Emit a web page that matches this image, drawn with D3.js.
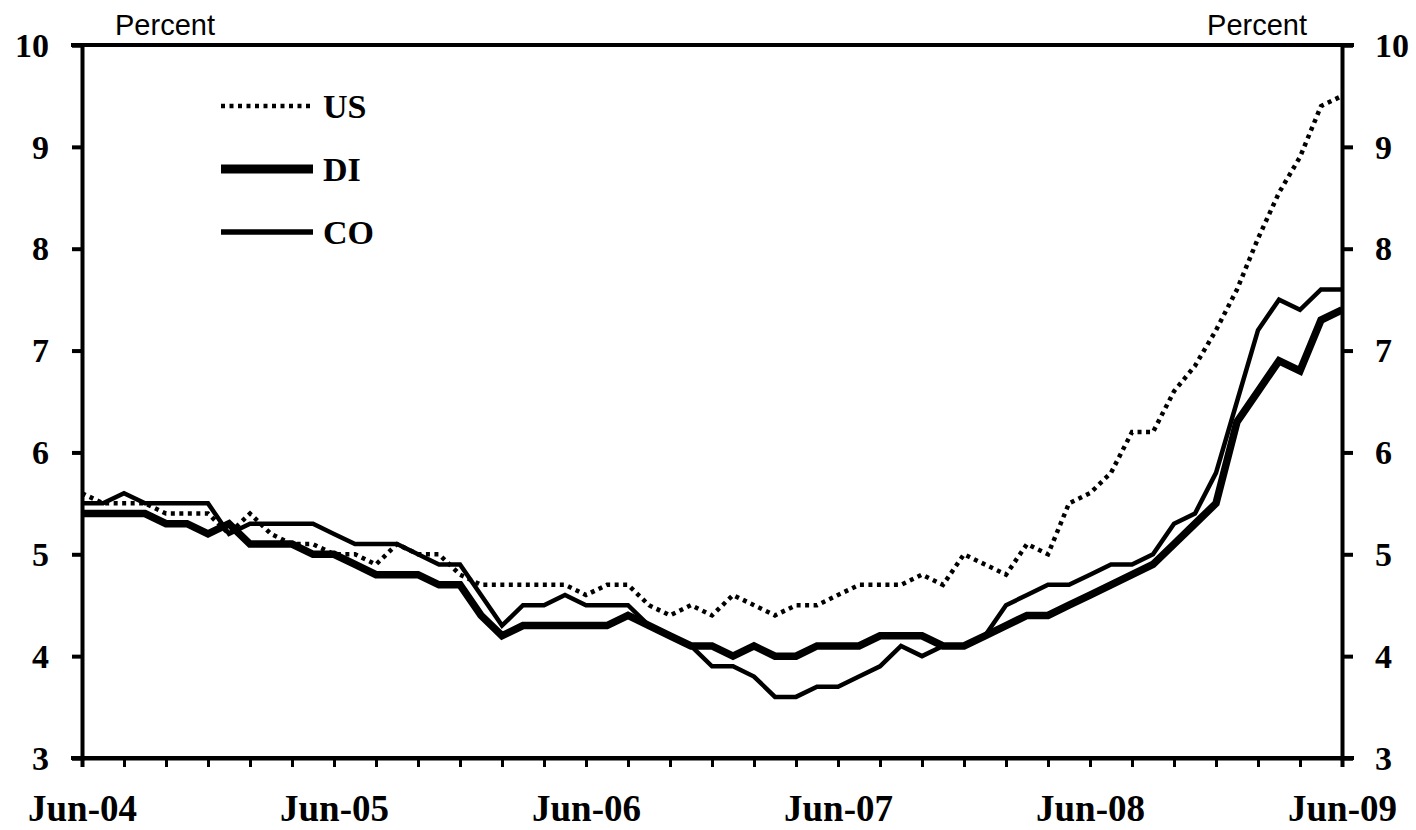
<!DOCTYPE html>
<html>
<head>
<meta charset="utf-8">
<script src="https://cdn.jsdelivr.net/npm/d3@7"></script>
<style>
  html, body { margin: 0; padding: 0; background: #fff; }
  svg { display: block; }
</style>
</head>
<body>
<svg id="chart" width="1416" height="830"></svg>
<script>
// ---- data (monthly, Jun-04 .. Jun-09) ----
const monthLabels = ["Jun-04","Jun-05","Jun-06","Jun-07","Jun-08","Jun-09"];
const yTicks = [3,4,5,6,7,8,9,10];
const seriesNames = ["US","DI","CO"];

const US = [5.6,5.5,5.5,5.5,5.4,5.4,5.4,5.2,5.4,5.2,
            5.1,5.1,5.0,5.0,4.9,5.1,5.0,5.0,4.8,4.7,
            4.7,4.7,4.7,4.7,4.6,4.7,4.7,4.5,4.4,4.5,
            4.4,4.6,4.5,4.4,4.5,4.5,4.6,4.7,4.7,4.7,
            4.8,4.7,5.0,4.9,4.8,5.1,5.0,5.5,5.6,5.8,
            6.2,6.2,6.6,6.85,7.2,7.6,8.1,8.55,8.9,9.4,
            9.5];
const DI = [5.4,5.4,5.4,5.4,5.3,5.3,5.2,5.3,5.1,5.1,
            5.1,5.0,5.0,4.9,4.8,4.8,4.8,4.7,4.7,4.4,
            4.2,4.3,4.3,4.3,4.3,4.3,4.4,4.3,4.2,4.1,
            4.1,4.0,4.1,4.0,4.0,4.1,4.1,4.1,4.2,4.2,
            4.2,4.1,4.1,4.2,4.3,4.4,4.4,4.5,4.6,4.7,
            4.8,4.9,5.1,5.3,5.5,6.3,6.6,6.9,6.8,7.3,
            7.4];
const CO = [5.5,5.5,5.6,5.5,5.5,5.5,5.5,5.2,5.3,5.3,
            5.3,5.3,5.2,5.1,5.1,5.1,5.0,4.9,4.9,4.6,
            4.3,4.5,4.5,4.6,4.5,4.5,4.5,4.3,4.2,4.1,
            3.9,3.9,3.8,3.6,3.6,3.7,3.7,3.8,3.9,4.1,
            4.0,4.1,4.1,4.2,4.5,4.6,4.7,4.7,4.8,4.9,
            4.9,5.0,5.3,5.4,5.8,6.5,7.2,7.5,7.4,7.6,
            7.6];

// ---- layout ----
const svg = d3.select("#chart");
const L = 82, R = 1342, T = 45, B = 758;
const nMonths = US.length - 1;

const x = d3.scaleLinear().domain([0, nMonths]).range([L, R]);
const y = d3.scaleLinear().domain([3, 10]).range([B, T]);

const serif = "'Liberation Serif','Times New Roman',serif";
const sans = "'Liberation Sans',Arial,sans-serif";

// axes frame
const gAxes = svg.append("g");
gAxes.append("line").attr("x1", 71).attr("x2", 1354).attr("y1", T).attr("y2", T)
  .attr("stroke", "#000").attr("stroke-width", 4);
gAxes.append("line").attr("x1", 71).attr("x2", 1354).attr("y1", B).attr("y2", B)
  .attr("stroke", "#000").attr("stroke-width", 4);

// left axis
const leftAxis = d3.axisLeft(y).tickValues(yTicks).tickSize(10).tickPadding(22).tickFormat(d3.format("d"));
const gL = svg.append("g").attr("transform", `translate(${L},0)`).call(leftAxis);
// right axis
const rightAxis = d3.axisRight(y).tickValues(yTicks).tickSize(11).tickPadding(22).tickFormat(d3.format("d"));
const gR = svg.append("g").attr("transform", `translate(${R},0)`).call(rightAxis);
// bottom axis
const xTickVals = d3.range(0, nMonths + 1, 2);
const bottomAxis = d3.axisBottom(x).tickValues(xTickVals).tickSize(9).tickPadding(10)
  .tickFormat(d => (d % 12 === 0) ? monthLabels[d / 12] : "");
const gB = svg.append("g").attr("transform", `translate(0,${B})`).call(bottomAxis);

[gL, gR, gB].forEach(g => {
  g.select(".domain").attr("stroke", "#000").attr("stroke-width", 4);
  g.selectAll(".tick line").attr("stroke", "#000").attr("stroke-width", 4);
  g.selectAll(".tick text").attr("fill", "#000").attr("font-family", serif)
    .attr("font-weight", "bold");
});
gL.selectAll(".tick text").attr("font-size", 34).attr("dy", "0.33em").attr("x", -33);
gR.selectAll(".tick text").attr("font-size", 34).attr("dy", "0.33em").attr("x", 33);
// place month labels with baseline near the bottom of the picture
gB.selectAll(".tick text").attr("font-size", 37).attr("y", 63).attr("dy", 0);
gB.selectAll(".tick line").attr("stroke-width", 3);

// "Percent" labels
svg.append("text").attr("x", 115).attr("y", 35).attr("font-family", sans)
  .attr("font-size", 29).attr("fill", "#000").text("Percent");
svg.append("text").attr("x", 1307).attr("y", 35).attr("text-anchor", "end").attr("font-family", sans)
  .attr("font-size", 29).attr("fill", "#000").text("Percent");

// lines
const line = d3.line().x((d, i) => x(i)).y(d => y(d));
const styles = {
  US: {w: 4.5, dash: "4,4.5"},
  DI: {w: 7.5, dash: null},
  CO: {w: 4.5, dash: null}
};
const dataMap = {US, DI, CO};
const gLines = svg.append("g");
["CO", "DI", "US"].forEach(k => {
  gLines.append("path").datum(dataMap[k])
    .attr("d", line)
    .attr("fill", "none")
    .attr("stroke", "#000")
    .attr("stroke-width", styles[k].w)
    .attr("stroke-linejoin", "miter")
    .attr("stroke-dasharray", styles[k].dash);
});

// legend
const legY = {US: 106, DI: 169, CO: 232};
const legW = {US: 4.5, DI: 9, CO: 5.5};
const gLeg = svg.append("g");
seriesNames.forEach(k => {
  gLeg.append("line").attr("x1", 221).attr("x2", 313).attr("y1", legY[k]).attr("y2", legY[k])
    .attr("stroke", "#000").attr("stroke-width", legW[k])
    .attr("stroke-dasharray", k === "US" ? "4,4.5" : null);
  gLeg.append("text").attr("x", 323).attr("y", legY[k] + 12)
    .attr("font-family", serif).attr("font-weight", "bold").attr("font-size", 34)
    .attr("fill", "#000").text(k);
});
</script>
</body>
</html>
